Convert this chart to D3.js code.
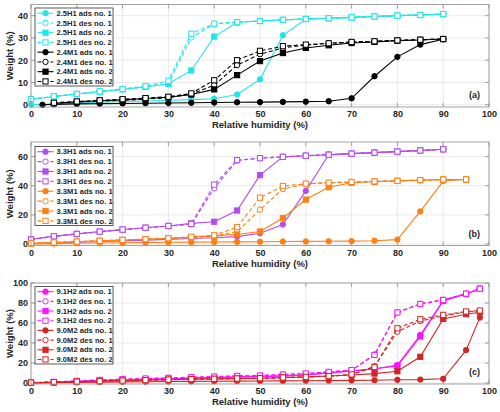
<!DOCTYPE html>
<html><head><meta charset="utf-8">
<script src="https://cdn.jsdelivr.net/npm/d3@7"></script>
<style>
body{margin:0;background:#fff}
svg{display:block}
text{font-family:"Liberation Sans",Arial,Helvetica,sans-serif;font-weight:bold;fill:#262626}
</style>
</head><body>
<svg id="chart" width="500" height="412"></svg>
<script>
// ---------- DATA ----------
const rh0to90 = [0,5,10,15,20,25,30,35,40,45,50,55,60,65,70,75,80,85,90];
const rh25to90 = [2.5,5,10,15,20,25,30,35,40,45,50,55,60,65,70,75,80,85,90];
const rh5to90 = [5,10,15,20,25,30,35,40,45,50,55,60,65,70,75,80,85,90];
const rh0to95 = [0,5,10,15,20,25,30,35,40,45,50,55,60,65,70,75,80,85,90,95];
const rh0to98 = [0,5,10,15,20,25,30,35,40,45,50,55,60,65,70,75,80,85,90,95,98];

// panel (a)
const a_25H1_ads1 = [0,0.4,0.8,1.1,1.4,1.7,2.0,2.3,2.7,4.6,11.4,31.2,38.5,38.8,39.2,39.6,40.0,40.3,40.7];
const a_25H1_des1 = [2.5,3.7,4.8,5.9,7.0,8.1,9.6,30.2,36.2,37.1,37.6,38.1,38.5,38.8,39.2,39.6,40.0,40.3,40.7];
const a_25H1_ads2 = [2.5,3.6,4.8,5.9,6.9,8.0,9.4,15.4,30.6,36.9,37.6,38.1,38.5,38.8,39.2,39.6,40.0,40.3,40.7];
const a_25H1_des2 = [2.6,3.8,4.9,6.0,7.1,8.3,10.8,31.9,36.4,37.1,37.6,38.1,38.5,38.8,39.2,39.6,40.0,40.3,40.7];
const a_24M1_ads1 = [0,0.2,0.4,0.5,0.6,0.7,0.8,0.9,1.0,1.1,1.2,1.3,1.4,1.6,2.9,12.8,21.5,27.0,29.4];
const a_24M1_des1 = [0.6,1.2,1.6,2.0,2.5,3.2,4.8,8.8,17.8,22.7,25.5,26.8,27.5,28.1,28.5,28.9,29.2,29.5];
const a_24M1_ads2 = [0.7,1.3,1.8,2.2,2.8,3.4,4.6,6.9,13.3,19.6,23.2,25.5,26.7,27.7,28.2,28.8,29.1,29.5];
const a_24M1_des2 = [0.9,1.5,2.0,2.5,3.0,3.6,5.1,11.0,20.0,24.2,26.3,27.0,27.6,28.2,28.5,28.9,29.2,29.5];

// panel (b)
const b_33H1_ads1 = [0.3,0.7,1.2,1.7,2.2,2.7,3.2,3.8,4.3,5.1,7.4,13.4,36.5,61.2,62.0,62.7,63.4,64.2,65.0];
const b_33H1_des1 = [3.0,5.2,6.8,8.4,9.8,11.1,12.3,13.5,38.2,57.3,58.9,59.8,60.6,61.3,62.0,62.7,63.4,64.2,65.0];
const b_33H1_ads2 = [3.2,5.4,7.0,8.5,9.9,11.2,12.4,14.2,15.3,23.0,47.3,59.8,60.6,61.3,62.0,62.7,63.4,64.2,65.0];
const b_33H1_des2 = [3.1,5.3,6.9,8.5,9.9,11.2,12.4,13.8,40.8,57.6,58.9,59.8,60.6,61.3,62.0,62.7,63.4,64.2,65.0];
const b_33M1_ads1 = [0,0.3,0.5,0.7,0.9,1.0,1.2,1.3,1.4,1.5,1.6,1.7,1.8,1.9,2.0,2.3,3.0,22.4,43.2,44.3];
const b_33M1_des1 = [0.4,1.0,1.6,2.2,2.7,3.2,3.8,4.5,5.4,8.6,23.6,37.8,41.3,42.0,42.5,43.0,43.4,43.9,44.3,44.3];
const b_33M1_ads2 = [0.5,1.0,1.6,2.2,2.8,3.3,3.9,4.8,5.6,6.6,8.6,17.9,30.5,39.0,42.0,42.7,43.3,43.8,44.2,44.3];
const b_33M1_des2 = [0.6,1.1,1.7,2.3,2.9,3.4,4.0,5.0,6.0,11.6,31.8,39.8,41.4,42.1,42.6,43.0,43.4,43.9,44.3,44.3];

// panel (c)
const c_91H2_ads1 = [0,0.5,1.5,2.3,3.0,3.6,4.2,4.8,5.4,6.0,6.5,7.0,8.0,10.0,12.0,14.0,18.0,48.0,82.6,89.3,94.3];
const c_91H2_des1 = [0.2,1.0,2.0,3.0,3.7,4.4,5.0,5.7,6.3,7.0,7.4,8.4,9.4,11.0,12.8,28.5,70.8,79.2,83.2,89.3,94.3];
const c_91H2_ads2 = [0.1,0.6,1.6,2.4,3.1,3.7,4.3,4.9,5.5,6.1,6.6,7.1,8.1,10.1,12.1,14.2,17.0,46.5,82.0,89.0,94.3];
const c_91H2_des2 = [0.3,1.1,2.1,3.1,3.8,4.5,5.1,5.8,6.4,7.1,7.5,8.5,9.5,11.1,12.9,28.0,70.5,79.0,83.0,89.3,94.3];
const c_90M2_ads1 = [0,0.3,0.6,0.9,1.1,1.3,1.5,1.6,1.8,1.9,2.0,2.1,2.3,2.4,2.6,2.7,3.2,3.4,4.2,32.9,65.4];
const c_90M2_des1 = [0.3,0.8,1.3,1.8,2.3,2.8,3.3,3.8,4.1,4.4,4.7,5.4,6.0,6.7,8.4,16.8,51.3,62.0,67.0,71.0,72.0];
const c_90M2_ads2 = [0.3,0.8,1.3,1.8,2.3,2.8,3.3,3.8,4.1,4.4,4.7,5.4,6.0,7.0,8.0,9.4,11.7,26.2,64.1,68.8,70.8];
const c_90M2_des2 = [0.4,0.9,1.4,1.9,2.4,2.9,3.4,3.9,4.2,4.5,4.8,5.5,6.1,6.8,8.6,16.0,54.7,63.8,68.1,71.5,72.5];

const xTicks = [0,10,20,30,40,50,60,70,80,90,100];
const yTicksA = [0,10,20,30,40];
const yTicksB = [0,20,40,60];
const yTicksC = [0,20,40,60,80,100];

const namesA = ["2.5H1 ads no. 1","2.5H1 des no. 1","2.5H1 ads no. 2","2.5H1 des no. 2","2.4M1 ads no. 1","2.4M1 des no. 1","2.4M1 ads no. 2","2.4M1 des no. 2"];
const namesB = ["3.3H1 ads no. 1","3.3H1 des no. 1","3.3H1 ads no. 2","3.3H1 des no. 2","3.3M1 ads no. 1","3.3M1 des no. 1","3.3M1 ads no. 2","3.3M1 des no. 2"];
const namesC = ["9.1H2 ads no. 1","9.1H2 des no. 1","9.1H2 ads no. 2","9.1H2 des no. 2","9.0M2 ads no. 1","9.0M2 des no. 1","9.0M2 ads no. 2","9.0M2 des no. 2"];

const colorsA = ["#1fe6ee","#000000"];
const colorsB = ["#b44cf0","#ff7f12"];
const colorsC = ["#ff10ff","#d42424"];

// ---------- BUILD ----------
function build(names, colors, xs, ys){
  const kinds = [["circle",true,false],["circle",false,true],["square",true,false],["square",false,true]];
  return names.map((n,i)=>({name:n,color:colors[i<4?0:1],marker:kinds[i%4][0],filled:kinds[i%4][1],dashed:kinds[i%4][2],x:xs[i],y:ys[i]}));
}
const panels = [
  {label:"(a)", top:4.5, bottom:107, ydom:[-1,45], yticks:yTicksA,
   series: build(namesA, colorsA,
     [rh0to90,rh0to90,rh0to90,rh0to90,rh25to90,rh5to90,rh5to90,rh5to90],
     [a_25H1_ads1,a_25H1_des1,a_25H1_ads2,a_25H1_des2,a_24M1_ads1,a_24M1_des1,a_24M1_ads2,a_24M1_des2]),
   legTop:8, legBottom:86},
  {label:"(b)", top:142, bottom:245.5, ydom:[-1,70], yticks:yTicksB,
   series: build(namesB, colorsB,
     [rh0to90,rh0to90,rh0to90,rh0to90,rh0to95,rh0to95,rh0to95,rh0to95],
     [b_33H1_ads1,b_33H1_des1,b_33H1_ads2,b_33H1_des2,b_33M1_ads1,b_33M1_des1,b_33M1_ads2,b_33M1_des2]),
   legTop:146.5, legBottom:225.5},
  {label:"(c)", top:283, bottom:384, ydom:[-1,100], yticks:yTicksC,
   series: build(namesC, colorsC,
     [rh0to98,rh0to98,rh0to98,rh0to98,rh0to98,rh0to98,rh0to98,rh0to98],
     [c_91H2_ads1,c_91H2_des1,c_91H2_ads2,c_91H2_des2,c_90M2_ads1,c_90M2_des1,c_90M2_ads2,c_90M2_des2]),
   legTop:286.5, legBottom:364}
];

const svg = d3.select("#chart");
const L = 31, R = 489;
const x = d3.scaleLinear().domain([0,100]).range([L,R]);

function drawMarker(g, s, px, py){
  if(s.marker==="circle"){
    g.append("circle").attr("cx",px).attr("cy",py).attr("r",2.7)
      .attr("fill",s.filled?s.color:"#fff").attr("stroke",s.color).attr("stroke-width",1);
  } else {
    const h=2.6;
    g.append("rect").attr("x",px-h).attr("y",py-h).attr("width",2*h).attr("height",2*h)
      .attr("fill",s.filled?s.color:"#fff").attr("stroke",s.color).attr("stroke-width",1);
  }
}

panels.forEach(p=>{
  const y = d3.scaleLinear().domain(p.ydom).range([p.bottom,p.top]);
  const g = svg.append("g");
  // background
  g.append("rect").attr("x",L).attr("y",p.top).attr("width",R-L).attr("height",p.bottom-p.top).attr("fill","#fff");
  // grid
  g.append("g").selectAll("line").data(xTicks).join("line")
    .attr("x1",d=>x(d)).attr("x2",d=>x(d)).attr("y1",p.top).attr("y2",p.bottom)
    .attr("stroke","#e3e3e3").attr("stroke-width",0.8);
  g.append("g").selectAll("line").data(p.yticks).join("line")
    .attr("x1",L).attr("x2",R).attr("y1",d=>y(d)).attr("y2",d=>y(d))
    .attr("stroke","#e3e3e3").attr("stroke-width",0.8);
  // axes (inner ticks)
  const axB = d3.axisBottom(x).tickValues(xTicks).tickSize(0).tickPadding(4);
  const axL = d3.axisLeft(y).tickValues(p.yticks).tickSize(0).tickPadding(3);
  const gb = g.append("g").attr("transform",`translate(0,${p.bottom})`).call(axB);
  const gl = g.append("g").attr("transform",`translate(${L},0)`).call(axL);
  [gb,gl].forEach(a=>{a.select(".domain").remove(); a.selectAll("text").style("font-size","9px").style("font-weight","bold").attr("fill","#262626");});
  // inward tick marks on all sides
  const tk = g.append("g").attr("stroke","#8c8c8c").attr("stroke-width",0.8);
  xTicks.forEach(t=>{
    tk.append("line").attr("x1",x(t)).attr("x2",x(t)).attr("y1",p.bottom).attr("y2",p.bottom-4);
    tk.append("line").attr("x1",x(t)).attr("x2",x(t)).attr("y1",p.top).attr("y2",p.top+4);
  });
  p.yticks.forEach(t=>{
    tk.append("line").attr("x1",L).attr("x2",L+4).attr("y1",y(t)).attr("y2",y(t));
    tk.append("line").attr("x1",R).attr("x2",R-4).attr("y1",y(t)).attr("y2",y(t));
  });
  // series
  const line = d3.line().x(d=>x(d[0])).y(d=>y(d[1]));
  p.series.forEach(s=>{
    const pts = s.x.map((v,i)=>[v,s.y[i]]);
    g.append("path").attr("d",line(pts)).attr("fill","none").attr("stroke",s.color)
      .attr("stroke-width",1.1).attr("stroke-dasharray",s.dashed?"4,2.5":null);
    pts.forEach(d=>drawMarker(g,s,x(d[0]),y(d[1])));
  });
  // frame
  g.append("rect").attr("x",L).attr("y",p.top).attr("width",R-L).attr("height",p.bottom-p.top)
    .attr("fill","none").attr("stroke","#9a9a9a").attr("stroke-width",0.9);
  // legend
  const lg = g.append("g");
  lg.append("rect").attr("x",35).attr("y",p.legTop).attr("width",78).attr("height",p.legBottom-p.legTop)
    .attr("fill","#fff").attr("stroke","#333").attr("stroke-width",0.8);
  const step = (p.legBottom-p.legTop)/8;
  p.series.forEach((s,i)=>{
    const cy = p.legTop + step*(i+0.5) + 0.3;
    lg.append("line").attr("x1",37.5).attr("x2",53.5).attr("y1",cy).attr("y2",cy)
      .attr("stroke",s.color).attr("stroke-width",1.1).attr("stroke-dasharray",s.dashed?"4,2.5":null);
    drawMarker(lg,s,45.5,cy);
    lg.append("text").attr("x",56.5).attr("y",cy).attr("dy","0.35em").style("font-size","7.6px").text(s.name);
  });
  // panel label
  g.append("text").attr("x",480).attr("y",p.bottom-9).attr("text-anchor","end").style("font-size","9px").text(p.label);
  // axis titles
  g.append("text").attr("x",(L+R)/2).attr("y",p.bottom+21).attr("text-anchor","middle").style("font-size","9.5px").text("Relative humidity (%)");
  g.append("text").attr("transform",`translate(13,${(p.top+p.bottom)/2}) rotate(-90)`).attr("text-anchor","middle").style("font-size","9.5px").text("Weight (%)");
});
</script>
</body></html>
